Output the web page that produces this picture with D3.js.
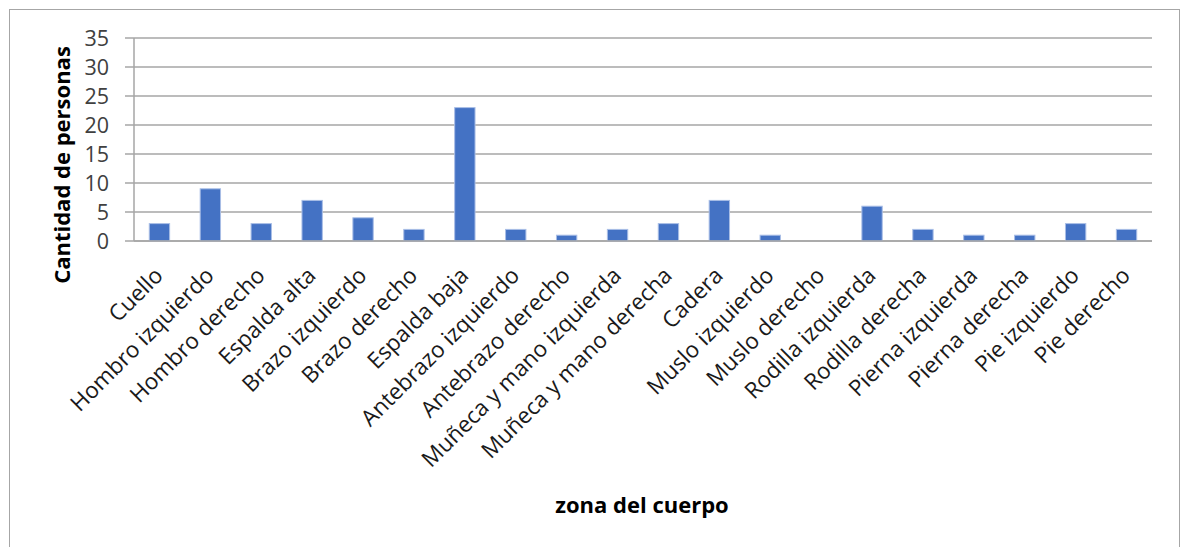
<!DOCTYPE html>
<html>
<head>
<meta charset="utf-8">
<script src="https://cdn.jsdelivr.net/npm/d3@7"></script>
<style>
  html, body { margin: 0; padding: 0; background: #fff; }
  svg { display: block; }
</style>
</head>
<body>
<svg id="chart" width="1181" height="547"></svg>
<script>
// Número de personas con molestias por zona del cuerpo
const zonas = [
  "Cuello", "Hombro izquierdo", "Hombro derecho", "Espalda alta",
  "Brazo izquierdo", "Brazo derecho", "Espalda baja", "Antebrazo izquierdo",
  "Antebrazo derecho", "Muñeca y mano izquierda", "Muñeca y mano derecha",
  "Cadera", "Muslo izquierdo", "Muslo derecho", "Rodilla izquierda",
  "Rodilla derecha", "Pierna izquierda", "Pierna derecha", "Pie izquierdo",
  "Pie derecho"
];
const personas = [3, 9, 3, 7, 4, 2, 23, 2, 1, 2, 3, 7, 1, 0, 6, 2, 1, 1, 3, 2];
const yTicks = [0, 5, 10, 15, 20, 25, 30, 35];

const tituloY = "Cantidad de personas";
const tituloX = "zona del cuerpo";

const svg = d3.select("#chart");
const font = "'Open Sans', 'Segoe UI', sans-serif";

// marco exterior del gráfico
svg.append("rect")
  .attr("x", 9.5).attr("y", 9.5)
  .attr("width", 1170).attr("height", 560)
  .attr("fill", "#fff")
  .attr("stroke", "#A6A6A6")
  .attr("stroke-width", 1);

const plot = { left: 134, right: 1152, top: 38, bottom: 241 };

const x = d3.scaleBand()
  .domain(zonas)
  .range([plot.left, plot.right])
  .paddingInner(0.6)
  .paddingOuter(0.3);

const y = d3.scaleLinear()
  .domain([0, 35])
  .range([plot.bottom, plot.top]);

// líneas de división horizontales
svg.append("g")
  .selectAll("line")
  .data(yTicks)
  .join("line")
  .attr("x1", plot.left - 9)
  .attr("x2", plot.right)
  .attr("y1", d => y(d))
  .attr("y2", d => y(d))
  .attr("stroke", "#A6A6A6")
  .attr("stroke-width", 1.5);

// eje vertical
svg.append("line")
  .attr("x1", plot.left).attr("x2", plot.left)
  .attr("y1", plot.top).attr("y2", plot.bottom)
  .attr("stroke", "#A6A6A6")
  .attr("stroke-width", 1.5);

// etiquetas del eje Y
svg.append("g")
  .selectAll("text")
  .data(yTicks)
  .join("text")
  .attr("x", 109)
  .attr("y", d => y(d))
  .attr("dy", "0.36em")
  .attr("text-anchor", "end")
  .attr("font-family", font)
  .attr("font-size", 21.5)
  .attr("fill", "#404040")
  .text(d => d);

// barras
svg.append("g")
  .selectAll("rect")
  .data(zonas.map((z, i) => ({ z, v: personas[i] })))
  .join("rect")
  .attr("x", d => x(d.z))
  .attr("width", x.bandwidth())
  .attr("y", d => y(d.v))
  .attr("height", d => y(0) - y(d.v))
  .attr("fill", "#4472C4")
  .attr("stroke", "#A9BEE6")
  .attr("stroke-width", d => d.v > 0 ? 1 : 0);

// eje horizontal
svg.append("line")
  .attr("x1", plot.left).attr("x2", plot.right)
  .attr("y1", plot.bottom).attr("y2", plot.bottom)
  .attr("stroke", "#A6A6A6")
  .attr("stroke-width", 1.5);

// etiquetas de categorías giradas
svg.append("g")
  .selectAll("text")
  .data(zonas)
  .join("text")
  .attr("transform", d => `translate(${x(d) + x.bandwidth() / 2 + 5},277) rotate(-45)`)
  .attr("text-anchor", "end")
  .attr("font-family", font)
  .attr("font-size", 22.5)
  .attr("fill", "#1a1a1a")
  .text(d => d);

// títulos de los ejes
svg.append("text")
  .attr("transform", "translate(70,165) rotate(-90)")
  .attr("text-anchor", "middle")
  .attr("font-family", font)
  .attr("font-weight", "bold")
  .attr("font-size", 22)
  .attr("fill", "#000")
  .text(tituloY);

svg.append("text")
  .attr("x", 642)
  .attr("y", 513)
  .attr("text-anchor", "middle")
  .attr("font-family", font)
  .attr("font-weight", "bold")
  .attr("font-size", 22)
  .attr("fill", "#000")
  .text(tituloX);
</script>
</body>
</html>
